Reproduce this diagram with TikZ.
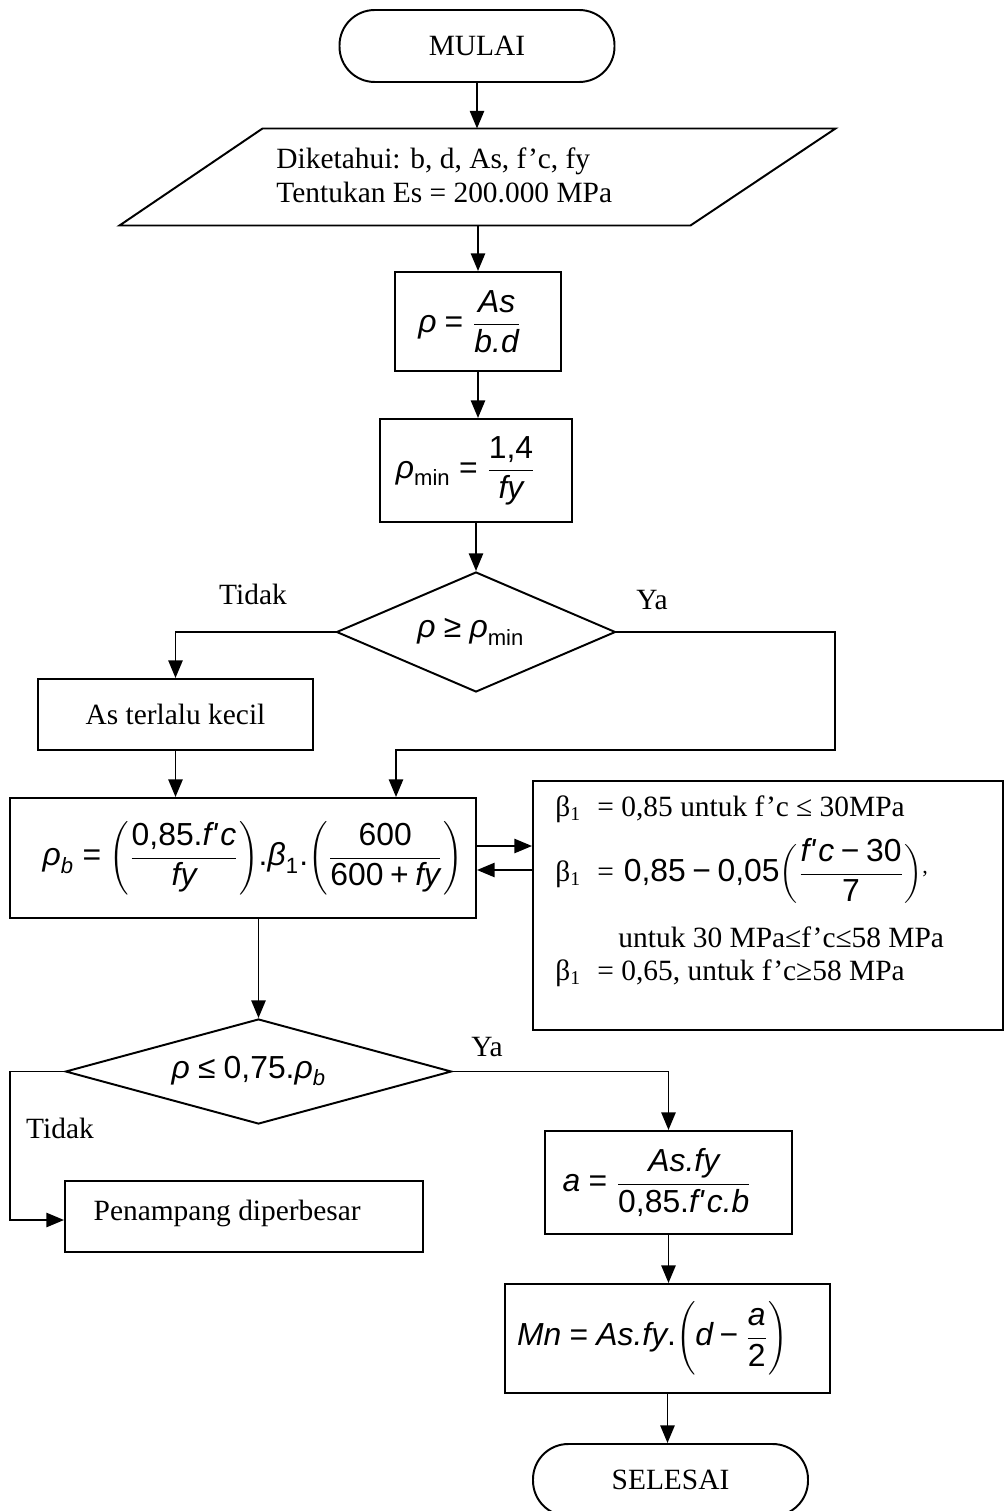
\documentclass[tikz,border=0pt]{standalone}
\usepackage{fontspec}
\setmainfont{Liberation Serif}
\newfontfamily\arialf{Liberation Sans}
\usetikzlibrary{arrows.meta,calc,shapes.geometric}
\newdimen\px \px=0.408pt
\newcommand\mi[1]{\mbox{\arialf\itshape\fontsize{13}{15}\selectfont #1}}
\newcommand\mrm[1]{\mbox{\arialf\fontsize{13}{15}\selectfont #1}}
\newcommand\msub[1]{\mbox{\arialf\fontsize{9}{10}\selectfont #1}}
\newcommand\msubi[1]{\mbox{\arialf\itshape\fontsize{9}{10}\selectfont #1}}
\newcommand\fc{f'\kern1.2pt c}
\newcommand\bsub{\makebox[42\px][l]{β\textsubscript{1}}}
\begin{document}
\begin{tikzpicture}[x=0.408pt,y=-0.408pt,
  font=\fontsize{12}{13.9}\selectfont,
  ln/.style={line width=0.8pt},
  box/.style={draw,line width=0.8pt,inner sep=0pt,rectangle},
  term/.style={draw,line width=0.8pt,rectangle,rounded corners=14.4pt,inner sep=0pt},
  dia/.style={draw,line width=0.8pt,diamond,inner sep=0pt,aspect=2.3},
  arr/.style={line width=0.8pt,-{Triangle[length=7.2pt,width=5.8pt]}},
  lbl/.style={inner sep=0pt}]
\useasboundingbox (0,0) rectangle (1005,1511);

% start
\node[term,minimum width=275*\px,minimum height=72*\px] (start) at (477,46) {MULAI};

% input parallelogram
\node[minimum width=715*\px,minimum height=96*\px,inner sep=0pt] (in) at (477.5,177) {};
\draw[ln] ($(in.north west)+(143,0)$) -- (in.north east) -- ($(in.south east)+(-145,0)$) -- (in.south west) -- cycle;
\node[lbl,anchor=west,align=left] (intext) at (276,175) {Diketahui: b, d, As, f’c, fy\\Tentukan Es = 200.000 MPa};

% rho
\node[box,minimum width=166*\px,minimum height=99*\px,
  label={[xshift=-8*\px]center:{$\displaystyle \mi{ρ}\mathrel{\mrm{=}}\frac{\mi{As}}{\mi{b.d}}$}}] (r1) at (478,321.5) {};

% rho min
\node[box,minimum width=192*\px,minimum height=103*\px,
  label={[xshift=-10*\px]center:{$\displaystyle \mi{ρ}_{\msub{min}}\mathrel{\mrm{=}}\frac{\mrm{1,4}}{\mi{fy}}$}}] (r2) at (476,470.5) {};

% decision 1
\node[dia,minimum width=279*\px,minimum height=120*\px] (d1) at (476,632) {};
\node[lbl] (d1t) at (471,632) {$\mi{ρ}\mathrel{\mrm{≥}}\mi{ρ}_{\msub{min}}$};
\node[lbl] (tidak1) at (253,594) {Tidak};
\node[lbl] (ya1) at (652,600) {Ya};

% As terlalu kecil
\node[box,minimum width=275*\px,minimum height=71*\px] (kecil) at (175.5,714.5) {As terlalu kecil};

% rho b
\node[box,minimum width=466*\px,minimum height=120*\px,
  label={[anchor=west,xshift=25*\px]west:{$\displaystyle \mi{ρ}_{\msubi{b}}\mathrel{\mrm{=}}\Biggl(\frac{\mrm{0,85.}\mi{\fc}}{\mi{fy}}\Biggr)\mrm{.}\mi{β}_{\msub{1}}\mrm{.}\Biggl(\frac{\mrm{600}}{\mrm{600}\mathbin{\mrm{+}}\mi{fy}}\Biggr)$}}] (rb) at (243,858) {};

% beta box
\node[box,minimum width=470*\px,minimum height=249*\px] (beta) at (768,905.5) {};
\node[lbl,anchor=west] (b1) at (555,809) {\bsub= 0,85 untuk f’c ≤ 30MPa};
\node[lbl,anchor=west] (b2) at (555,871) {\bsub=\,\,$\displaystyle\mrm{0,85}\mathbin{\mrm{−}}\mrm{0,05}\biggl(\frac{\mi{\fc}\mathbin{\mrm{−}}\mrm{30}}{\mrm{7}}\biggr)$\raisebox{0.6ex}{\small,}};
\node[lbl,anchor=west] (b3) at (618,937) {untuk 30 MPa≤f’c≤58 MPa};
\node[lbl,anchor=west] (b4) at (555,973) {\bsub= 0,65, untuk f’c≥58 MPa};

% decision 2
\node[dia,minimum width=386*\px,minimum height=105*\px] (d2) at (258.5,1071.5) {};
\node[lbl] (d2t) at (249,1071) {$\mi{ρ}\mathrel{\mrm{≤}}\mrm{0,75.}\mi{ρ}_{\msubi{b}}$};
\node[lbl] (ya2) at (487,1047) {Ya};
\node[lbl] (tidak2) at (60,1128) {Tidak};

% Penampang diperbesar
\node[box,minimum width=358*\px,minimum height=71*\px,
  label={[anchor=west,xshift=21*\px,yshift=3*\px]west:{Penampang diperbesar}}] (pb) at (244,1216.5) {};

% a
\node[box,minimum width=247*\px,minimum height=103*\px,
  label={[xshift=-11*\px]center:{$\displaystyle \mi{a}\mathrel{\mrm{=}}\frac{\mi{As.fy}}{\mrm{0,85.}\mi{\fc.b}}$}}] (ra) at (668.5,1182.5) {};

% Mn
\node[box,minimum width=325*\px,minimum height=109*\px,
  label={[xshift=-15*\px]center:{$\displaystyle \mi{Mn}\mathrel{\mrm{=}}\mi{As.fy}\mrm{.}\Biggl(\mi{d}\mathbin{\mrm{−}}\frac{\mi{a}}{\mrm{2}}\Biggr)$}}] (mn) at (667.5,1338.5) {};

% end
\node[term,minimum width=275*\px,minimum height=72*\px] (stop) at (670.5,1480) {SELESAI};

% connectors
\coordinate (yaA) at (835,750);
\coordinate (yaB) at (396,750);
\coordinate (tk) at (10,1220);
\coordinate (rbo) at ($(rb.east)+(0,-12)$);
\coordinate (rbi) at ($(rb.east)+(0,12)$);

\draw[arr] (start.south) -- (start.south |- in.north);
\draw[arr] (r1.north |- in.south) -- (r1.north);
\draw[arr] (r1.south) -- (r1.south |- r2.north);
\draw[arr] (r2.south) -- (r2.south |- d1.north);
\draw[arr] (d1.west) -| (kecil.north);
\draw[arr] (d1.east) -| (yaA) -- (yaB) -- (yaB |- rb.north);
\draw[arr] (kecil.south) -- (kecil.south |- rb.north);
\draw[arr] (rbo) -- (rbo -| beta.west);
\draw[arr] (rbi -| beta.west) -- (rbi);
\draw[arr] (d2.north |- rb.south) -- (d2.north);
\draw[arr] (d2.west) -| (tk) -- (tk -| pb.west);
\draw[arr] (d2.east) -| (ra.north);
\draw[arr] (ra.south) -- (ra.south |- mn.north);
\draw[arr] (mn.south) -- (mn.south |- stop.north);
\end{tikzpicture}
\end{document}
